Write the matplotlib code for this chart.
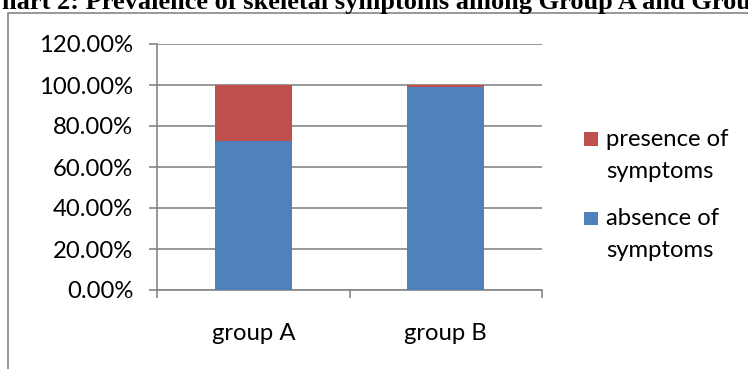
import matplotlib
matplotlib.use("Agg")
import matplotlib.pyplot as plt
from matplotlib.patches import Rectangle
from matplotlib.ticker import FuncFormatter
import numpy as np

categories = ["group A", "group B"]
absence = [72.5, 99.0]
presence = [27.5, 1.0]
yticks = [0, 20, 40, 60, 80, 100, 120]
legend_labels = ["presence of\nsymptoms", "absence of\nsymptoms"]
title = "Chart 2: Prevalence of skeletal symptoms among Group A and Group B"

W, H = 748, 369
fig = plt.figure(figsize=(W / 100, H / 100), dpi=100)
font = "Lato"
tick_fs = 17.2
grey = "#868686"

# chart frame
fig.patches.append(Rectangle((7.5 / W, -0.1), 2.0, (H - 12.5) / H + 0.1,
                             transform=fig.transFigure, fill=False,
                             edgecolor=grey, linewidth=1.2))

ax = fig.add_axes([157 / W, 1 - 290 / H, (542 - 157) / W, (290 - 44) / H])
x = np.arange(len(categories))
blue = "#4F81BD"
red = "#C0504D"
ax.bar(x, absence, width=0.4, color=blue, zorder=3)
ax.bar(x, presence, bottom=absence, width=0.4, color=red, zorder=3)
ax.set_xlim(-0.5, 1.5)
ax.set_ylim(0, 120)
ax.set_yticks(yticks)
ax.yaxis.set_major_formatter(FuncFormatter(lambda v, p: f"{v:.2f}%"))
ax.grid(axis="y", color=grey, linewidth=1.2, zorder=0)
ax.set_xticks(x)
ax.set_xticklabels(categories)
ax.set_xticks([-0.5, 0.5, 1.5], minor=True)
ax.tick_params(axis="x", which="major", length=0, pad=24, labelsize=tick_fs)
ax.tick_params(axis="x", which="minor", length=6, color=grey, width=1.2)
ax.tick_params(axis="y", length=6, color=grey, width=1.2, pad=11, labelsize=tick_fs)
for lab in ax.get_xticklabels() + ax.get_yticklabels():
    lab.set_fontfamily(font)
for s in ["top", "right"]:
    ax.spines[s].set_visible(False)
for s in ["left", "bottom"]:
    ax.spines[s].set_color(grey)
    ax.spines[s].set_linewidth(1.2)

# legend (square aligned with the first line of each label, as in the reference)
leg_colors = [red, blue]
leg_baselines = [146, 225]
for lab, col, yb in zip(legend_labels, leg_colors, leg_baselines):
    fig.patches.append(Rectangle((584 / W, 1 - yb / H), 14 / W, 13.5 / H,
                                 transform=fig.transFigure, facecolor=col,
                                 edgecolor="none"))
    first, second = lab.split("\n")
    fig.text(606 / W, 1 - yb / H, first, fontfamily=font, fontsize=tick_fs, va="baseline")
    fig.text(606 / W, 1 - (yb + 32) / H, second, fontfamily=font, fontsize=tick_fs, va="baseline")

# title, clipped at the top / sides
fig.canvas.draw()
r = fig.canvas.get_renderer()
tfs = 19.0
t = fig.text(0, 0, title, fontfamily="Liberation Serif", fontweight="bold", fontsize=tfs)
c = fig.text(0, 0, "C", fontfamily="Liberation Serif", fontweight="bold", fontsize=tfs)
cw = c.get_window_extent(r).width
c.remove()
t.set_position(((2 - cw) / W, 1 - 9 / H))
t.set_va("baseline")

fig.savefig("out.png", dpi=100)
